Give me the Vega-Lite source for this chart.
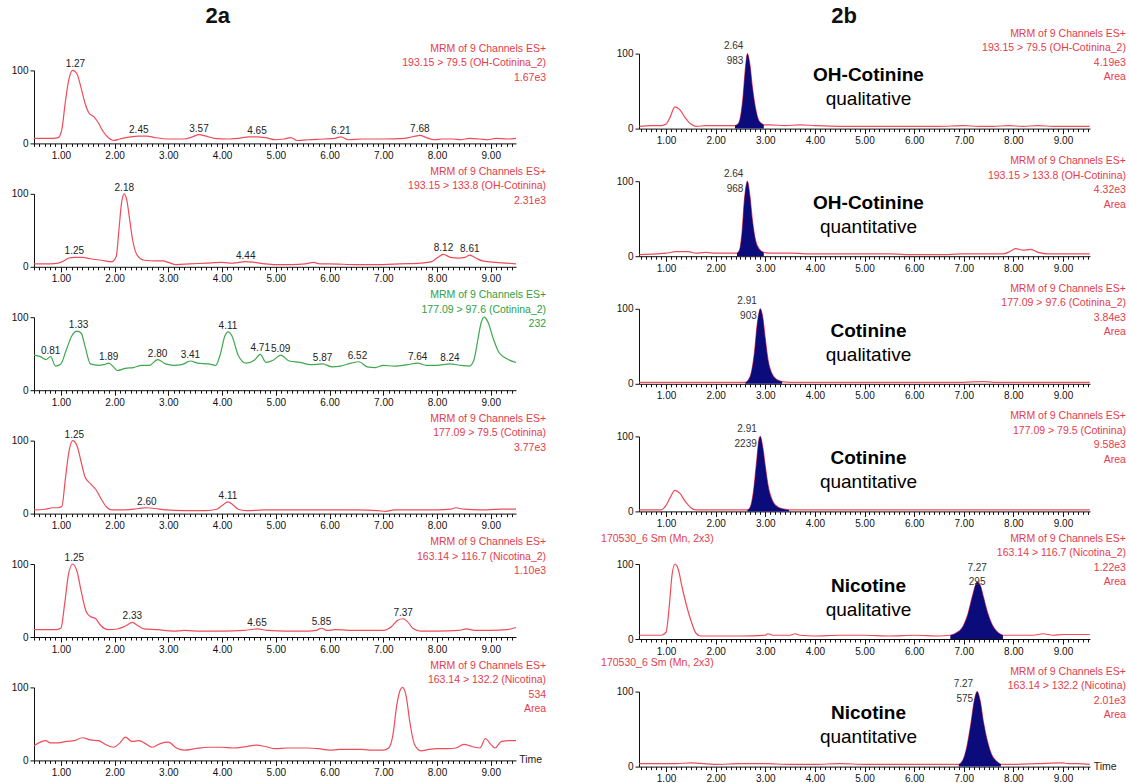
{
"$schema":"https://vega.github.io/schema/vega-lite/v6.json",
"background":"white",
"padding":{"left":11,"top":-6,"right":0,"bottom":0},
"config":{"view":{"stroke":null},"font":"Liberation Sans","axis":{"labelFont":"Liberation Sans","labelColor":"#111","domainColor":"#111","tickColor":"#111","grid":false,"labelFontSize":10},"text":{"font":"Liberation Sans"}},
"datasets":{
"curves":[
{"p":"a1","x":0.5,"y":7},{"p":"a1","x":0.7,"y":7},{"p":"a1","x":0.85,"y":7},{"p":"a1","x":0.95,"y":8},{"p":"a1","x":1.02,"y":20},{"p":"a1","x":1.08,"y":55},{"p":"a1","x":1.15,"y":88},{"p":"a1","x":1.22,"y":100},{"p":"a1","x":1.3,"y":95},{"p":"a1","x":1.38,"y":75},{"p":"a1","x":1.45,"y":55},{"p":"a1","x":1.52,"y":42},{"p":"a1","x":1.62,"y":36},{"p":"a1","x":1.7,"y":28},{"p":"a1","x":1.78,"y":17},{"p":"a1","x":1.88,"y":8},{"p":"a1","x":1.98,"y":4},{"p":"a1","x":2.1,"y":6},{"p":"a1","x":2.3,"y":9},{"p":"a1","x":2.45,"y":10},{"p":"a1","x":2.6,"y":10},{"p":"a1","x":2.75,"y":8},{"p":"a1","x":3.0,"y":6},{"p":"a1","x":3.3,"y":6},{"p":"a1","x":3.45,"y":9},{"p":"a1","x":3.57,"y":12},{"p":"a1","x":3.7,"y":10},{"p":"a1","x":3.85,"y":7},{"p":"a1","x":4.1,"y":6},{"p":"a1","x":4.3,"y":7},{"p":"a1","x":4.5,"y":9},{"p":"a1","x":4.65,"y":9},{"p":"a1","x":4.8,"y":8},{"p":"a1","x":5.0,"y":5},{"p":"a1","x":5.15,"y":6},{"p":"a1","x":5.28,"y":8},{"p":"a1","x":5.4,"y":4},{"p":"a1","x":5.6,"y":5},{"p":"a1","x":5.9,"y":6},{"p":"a1","x":6.1,"y":7},{"p":"a1","x":6.21,"y":9},{"p":"a1","x":6.35,"y":5},{"p":"a1","x":6.6,"y":6},{"p":"a1","x":7.0,"y":6},{"p":"a1","x":7.4,"y":7},{"p":"a1","x":7.6,"y":10},{"p":"a1","x":7.68,"y":11},{"p":"a1","x":7.8,"y":8},{"p":"a1","x":7.95,"y":5},{"p":"a1","x":8.1,"y":6},{"p":"a1","x":8.3,"y":6},{"p":"a1","x":8.45,"y":5},{"p":"a1","x":8.6,"y":7},{"p":"a1","x":8.8,"y":6},{"p":"a1","x":8.95,"y":5},{"p":"a1","x":9.1,"y":7},{"p":"a1","x":9.3,"y":6},{"p":"a1","x":9.47,"y":7},
{"p":"a2","x":0.5,"y":4},{"p":"a2","x":0.8,"y":4},{"p":"a2","x":0.95,"y":5},{"p":"a2","x":1.05,"y":8},{"p":"a2","x":1.15,"y":12},{"p":"a2","x":1.25,"y":13},{"p":"a2","x":1.4,"y":13},{"p":"a2","x":1.55,"y":11},{"p":"a2","x":1.75,"y":9},{"p":"a2","x":1.95,"y":7},{"p":"a2","x":2.03,"y":14},{"p":"a2","x":2.08,"y":50},{"p":"a2","x":2.13,"y":88},{"p":"a2","x":2.18,"y":100},{"p":"a2","x":2.23,"y":90},{"p":"a2","x":2.28,"y":65},{"p":"a2","x":2.34,"y":35},{"p":"a2","x":2.42,"y":16},{"p":"a2","x":2.55,"y":9},{"p":"a2","x":2.75,"y":8},{"p":"a2","x":2.9,"y":8},{"p":"a2","x":3.0,"y":6},{"p":"a2","x":3.15,"y":3},{"p":"a2","x":3.4,"y":4},{"p":"a2","x":3.7,"y":5},{"p":"a2","x":4.0,"y":6},{"p":"a2","x":4.2,"y":5},{"p":"a2","x":4.44,"y":7},{"p":"a2","x":4.6,"y":6},{"p":"a2","x":4.8,"y":4},{"p":"a2","x":5.0,"y":3},{"p":"a2","x":5.3,"y":3},{"p":"a2","x":5.55,"y":4},{"p":"a2","x":5.7,"y":6},{"p":"a2","x":5.82,"y":4},{"p":"a2","x":6.0,"y":4},{"p":"a2","x":6.5,"y":3},{"p":"a2","x":7.0,"y":3},{"p":"a2","x":7.3,"y":4},{"p":"a2","x":7.7,"y":5},{"p":"a2","x":7.9,"y":7},{"p":"a2","x":8.0,"y":12},{"p":"a2","x":8.12,"y":17},{"p":"a2","x":8.25,"y":13},{"p":"a2","x":8.4,"y":12},{"p":"a2","x":8.52,"y":13},{"p":"a2","x":8.61,"y":16},{"p":"a2","x":8.72,"y":12},{"p":"a2","x":8.85,"y":8},{"p":"a2","x":9.1,"y":6},{"p":"a2","x":9.3,"y":5},{"p":"a2","x":9.47,"y":4},
{"p":"a3","x":0.5,"y":48},{"p":"a3","x":0.62,"y":46},{"p":"a3","x":0.72,"y":42},{"p":"a3","x":0.81,"y":46},{"p":"a3","x":0.9,"y":33},{"p":"a3","x":1.0,"y":36},{"p":"a3","x":1.1,"y":55},{"p":"a3","x":1.2,"y":74},{"p":"a3","x":1.3,"y":81},{"p":"a3","x":1.38,"y":78},{"p":"a3","x":1.45,"y":60},{"p":"a3","x":1.55,"y":36},{"p":"a3","x":1.7,"y":34},{"p":"a3","x":1.8,"y":35},{"p":"a3","x":1.89,"y":37},{"p":"a3","x":1.98,"y":32},{"p":"a3","x":2.05,"y":27},{"p":"a3","x":2.2,"y":30},{"p":"a3","x":2.35,"y":31},{"p":"a3","x":2.5,"y":34},{"p":"a3","x":2.65,"y":34},{"p":"a3","x":2.8,"y":42},{"p":"a3","x":2.95,"y":36},{"p":"a3","x":3.1,"y":34},{"p":"a3","x":3.25,"y":35},{"p":"a3","x":3.41,"y":40},{"p":"a3","x":3.55,"y":37},{"p":"a3","x":3.75,"y":36},{"p":"a3","x":3.88,"y":34},{"p":"a3","x":3.97,"y":50},{"p":"a3","x":4.05,"y":74},{"p":"a3","x":4.11,"y":80},{"p":"a3","x":4.18,"y":75},{"p":"a3","x":4.3,"y":48},{"p":"a3","x":4.45,"y":37},{"p":"a3","x":4.6,"y":41},{"p":"a3","x":4.71,"y":49},{"p":"a3","x":4.82,"y":38},{"p":"a3","x":4.95,"y":41},{"p":"a3","x":5.09,"y":48},{"p":"a3","x":5.25,"y":40},{"p":"a3","x":5.45,"y":38},{"p":"a3","x":5.65,"y":35},{"p":"a3","x":5.87,"y":36},{"p":"a3","x":6.05,"y":32},{"p":"a3","x":6.2,"y":33},{"p":"a3","x":6.4,"y":37},{"p":"a3","x":6.55,"y":39},{"p":"a3","x":6.7,"y":32},{"p":"a3","x":6.85,"y":31},{"p":"a3","x":7.0,"y":34},{"p":"a3","x":7.2,"y":33},{"p":"a3","x":7.45,"y":35},{"p":"a3","x":7.64,"y":37},{"p":"a3","x":7.8,"y":34},{"p":"a3","x":8.0,"y":34},{"p":"a3","x":8.24,"y":36},{"p":"a3","x":8.45,"y":34},{"p":"a3","x":8.6,"y":33},{"p":"a3","x":8.68,"y":40},{"p":"a3","x":8.75,"y":65},{"p":"a3","x":8.82,"y":92},{"p":"a3","x":8.88,"y":100},{"p":"a3","x":8.95,"y":93},{"p":"a3","x":9.05,"y":70},{"p":"a3","x":9.15,"y":52},{"p":"a3","x":9.3,"y":43},{"p":"a3","x":9.47,"y":38},
{"p":"a4","x":0.5,"y":5},{"p":"a4","x":0.7,"y":6},{"p":"a4","x":0.85,"y":8},{"p":"a4","x":0.95,"y":8},{"p":"a4","x":1.02,"y":10},{"p":"a4","x":1.08,"y":45},{"p":"a4","x":1.15,"y":85},{"p":"a4","x":1.22,"y":100},{"p":"a4","x":1.3,"y":93},{"p":"a4","x":1.38,"y":70},{"p":"a4","x":1.45,"y":50},{"p":"a4","x":1.55,"y":41},{"p":"a4","x":1.65,"y":33},{"p":"a4","x":1.75,"y":20},{"p":"a4","x":1.85,"y":9},{"p":"a4","x":1.95,"y":5},{"p":"a4","x":2.2,"y":5},{"p":"a4","x":2.45,"y":7},{"p":"a4","x":2.6,"y":8},{"p":"a4","x":2.75,"y":7},{"p":"a4","x":2.95,"y":5},{"p":"a4","x":3.3,"y":4},{"p":"a4","x":3.7,"y":4},{"p":"a4","x":3.9,"y":6},{"p":"a4","x":4.0,"y":11},{"p":"a4","x":4.11,"y":16},{"p":"a4","x":4.2,"y":12},{"p":"a4","x":4.3,"y":6},{"p":"a4","x":4.45,"y":4},{"p":"a4","x":4.8,"y":5},{"p":"a4","x":5.2,"y":5},{"p":"a4","x":5.6,"y":5},{"p":"a4","x":6.0,"y":5},{"p":"a4","x":6.5,"y":5},{"p":"a4","x":6.9,"y":4},{"p":"a4","x":7.05,"y":3},{"p":"a4","x":7.2,"y":5},{"p":"a4","x":7.6,"y":5},{"p":"a4","x":8.0,"y":5},{"p":"a4","x":8.25,"y":6},{"p":"a4","x":8.35,"y":8},{"p":"a4","x":8.5,"y":6},{"p":"a4","x":8.8,"y":5},{"p":"a4","x":9.2,"y":6},{"p":"a4","x":9.47,"y":6},
{"p":"a5","x":0.5,"y":10},{"p":"a5","x":0.9,"y":10},{"p":"a5","x":1.0,"y":12},{"p":"a5","x":1.07,"y":45},{"p":"a5","x":1.14,"y":85},{"p":"a5","x":1.22,"y":100},{"p":"a5","x":1.3,"y":90},{"p":"a5","x":1.38,"y":62},{"p":"a5","x":1.47,"y":35},{"p":"a5","x":1.55,"y":28},{"p":"a5","x":1.65,"y":25},{"p":"a5","x":1.75,"y":15},{"p":"a5","x":1.88,"y":10},{"p":"a5","x":2.05,"y":11},{"p":"a5","x":2.2,"y":15},{"p":"a5","x":2.33,"y":20},{"p":"a5","x":2.42,"y":16},{"p":"a5","x":2.55,"y":11},{"p":"a5","x":2.8,"y":10},{"p":"a5","x":3.1,"y":8},{"p":"a5","x":3.3,"y":9},{"p":"a5","x":3.6,"y":8},{"p":"a5","x":4.0,"y":8},{"p":"a5","x":4.4,"y":9},{"p":"a5","x":4.65,"y":11},{"p":"a5","x":4.85,"y":9},{"p":"a5","x":5.2,"y":8},{"p":"a5","x":5.6,"y":8},{"p":"a5","x":5.75,"y":9},{"p":"a5","x":5.85,"y":12},{"p":"a5","x":5.95,"y":9},{"p":"a5","x":6.1,"y":10},{"p":"a5","x":6.5,"y":9},{"p":"a5","x":7.0,"y":9},{"p":"a5","x":7.15,"y":14},{"p":"a5","x":7.27,"y":23},{"p":"a5","x":7.37,"y":25},{"p":"a5","x":7.45,"y":21},{"p":"a5","x":7.55,"y":12},{"p":"a5","x":7.7,"y":8},{"p":"a5","x":8.0,"y":8},{"p":"a5","x":8.4,"y":9},{"p":"a5","x":8.55,"y":11},{"p":"a5","x":8.7,"y":9},{"p":"a5","x":9.0,"y":9},{"p":"a5","x":9.3,"y":10},{"p":"a5","x":9.47,"y":13},
{"p":"a6","x":0.5,"y":20},{"p":"a6","x":0.62,"y":25},{"p":"a6","x":0.72,"y":27},{"p":"a6","x":0.8,"y":24},{"p":"a6","x":0.95,"y":24},{"p":"a6","x":1.1,"y":26},{"p":"a6","x":1.25,"y":27},{"p":"a6","x":1.4,"y":31},{"p":"a6","x":1.55,"y":28},{"p":"a6","x":1.7,"y":27},{"p":"a6","x":1.85,"y":21},{"p":"a6","x":1.98,"y":18},{"p":"a6","x":2.1,"y":24},{"p":"a6","x":2.2,"y":32},{"p":"a6","x":2.32,"y":26},{"p":"a6","x":2.45,"y":27},{"p":"a6","x":2.55,"y":24},{"p":"a6","x":2.7,"y":18},{"p":"a6","x":2.85,"y":23},{"p":"a6","x":3.0,"y":25},{"p":"a6","x":3.15,"y":17},{"p":"a6","x":3.3,"y":14},{"p":"a6","x":3.5,"y":16},{"p":"a6","x":3.75,"y":18},{"p":"a6","x":4.0,"y":18},{"p":"a6","x":4.2,"y":17},{"p":"a6","x":4.45,"y":19},{"p":"a6","x":4.65,"y":21},{"p":"a6","x":4.8,"y":19},{"p":"a6","x":5.0,"y":16},{"p":"a6","x":5.2,"y":17},{"p":"a6","x":5.4,"y":17},{"p":"a6","x":5.6,"y":17},{"p":"a6","x":5.8,"y":16},{"p":"a6","x":6.0,"y":14},{"p":"a6","x":6.2,"y":15},{"p":"a6","x":6.4,"y":15},{"p":"a6","x":6.6,"y":15},{"p":"a6","x":6.8,"y":14},{"p":"a6","x":7.0,"y":14},{"p":"a6","x":7.1,"y":17},{"p":"a6","x":7.18,"y":35},{"p":"a6","x":7.25,"y":75},{"p":"a6","x":7.32,"y":97},{"p":"a6","x":7.36,"y":100},{"p":"a6","x":7.42,"y":90},{"p":"a6","x":7.5,"y":50},{"p":"a6","x":7.58,"y":22},{"p":"a6","x":7.7,"y":13},{"p":"a6","x":7.85,"y":15},{"p":"a6","x":8.0,"y":16},{"p":"a6","x":8.2,"y":16},{"p":"a6","x":8.35,"y":17},{"p":"a6","x":8.5,"y":22},{"p":"a6","x":8.65,"y":19},{"p":"a6","x":8.8,"y":17},{"p":"a6","x":8.9,"y":30},{"p":"a6","x":9.0,"y":22},{"p":"a6","x":9.08,"y":17},{"p":"a6","x":9.2,"y":26},{"p":"a6","x":9.35,"y":27},{"p":"a6","x":9.47,"y":27},
{"p":"b1","x":0.46,"y":3},{"p":"b1","x":0.7,"y":4},{"p":"b1","x":0.9,"y":4},{"p":"b1","x":1.0,"y":6},{"p":"b1","x":1.08,"y":15},{"p":"b1","x":1.18,"y":29},{"p":"b1","x":1.28,"y":25},{"p":"b1","x":1.38,"y":15},{"p":"b1","x":1.5,"y":6},{"p":"b1","x":1.6,"y":3},{"p":"b1","x":1.8,"y":4},{"p":"b1","x":2.1,"y":4},{"p":"b1","x":2.39,"y":4},{"p":"b1","x":2.45,"y":6},{"p":"b1","x":2.5,"y":15},{"p":"b1","x":2.55,"y":40},{"p":"b1","x":2.6,"y":80},{"p":"b1","x":2.64,"y":100},{"p":"b1","x":2.69,"y":85},{"p":"b1","x":2.74,"y":55},{"p":"b1","x":2.8,"y":28},{"p":"b1","x":2.86,"y":12},{"p":"b1","x":2.92,"y":7},{"p":"b1","x":2.97,"y":5},{"p":"b1","x":3.1,"y":5},{"p":"b1","x":3.4,"y":4},{"p":"b1","x":3.7,"y":5},{"p":"b1","x":4.0,"y":4},{"p":"b1","x":4.5,"y":3},{"p":"b1","x":5.0,"y":3},{"p":"b1","x":5.5,"y":3},{"p":"b1","x":6.0,"y":3},{"p":"b1","x":6.5,"y":3},{"p":"b1","x":7.0,"y":4},{"p":"b1","x":7.3,"y":3},{"p":"b1","x":7.6,"y":3},{"p":"b1","x":7.9,"y":4},{"p":"b1","x":8.2,"y":3},{"p":"b1","x":8.5,"y":4},{"p":"b1","x":8.8,"y":3},{"p":"b1","x":9.2,"y":3},{"p":"b1","x":9.54,"y":3},
{"p":"b2","x":0.46,"y":2},{"p":"b2","x":0.8,"y":3},{"p":"b2","x":1.0,"y":4},{"p":"b2","x":1.2,"y":6},{"p":"b2","x":1.45,"y":6},{"p":"b2","x":1.6,"y":4},{"p":"b2","x":1.8,"y":5},{"p":"b2","x":2.0,"y":4},{"p":"b2","x":2.2,"y":4},{"p":"b2","x":2.43,"y":4},{"p":"b2","x":2.48,"y":8},{"p":"b2","x":2.53,"y":30},{"p":"b2","x":2.58,"y":75},{"p":"b2","x":2.64,"y":100},{"p":"b2","x":2.69,"y":80},{"p":"b2","x":2.74,"y":48},{"p":"b2","x":2.8,"y":22},{"p":"b2","x":2.87,"y":10},{"p":"b2","x":2.97,"y":5},{"p":"b2","x":3.1,"y":4},{"p":"b2","x":3.5,"y":4},{"p":"b2","x":4.0,"y":3},{"p":"b2","x":4.5,"y":3},{"p":"b2","x":5.0,"y":3},{"p":"b2","x":5.5,"y":3},{"p":"b2","x":6.0,"y":2},{"p":"b2","x":6.5,"y":2},{"p":"b2","x":7.0,"y":3},{"p":"b2","x":7.5,"y":3},{"p":"b2","x":7.8,"y":3},{"p":"b2","x":7.95,"y":7},{"p":"b2","x":8.05,"y":10},{"p":"b2","x":8.2,"y":8},{"p":"b2","x":8.35,"y":9},{"p":"b2","x":8.5,"y":5},{"p":"b2","x":8.7,"y":3},{"p":"b2","x":9.0,"y":3},{"p":"b2","x":9.54,"y":3},
{"p":"b3","x":0.46,"y":2},{"p":"b3","x":1.0,"y":2},{"p":"b3","x":1.5,"y":2},{"p":"b3","x":2.0,"y":2},{"p":"b3","x":2.4,"y":2},{"p":"b3","x":2.6,"y":2},{"p":"b3","x":2.66,"y":5},{"p":"b3","x":2.72,"y":15},{"p":"b3","x":2.78,"y":40},{"p":"b3","x":2.84,"y":80},{"p":"b3","x":2.9,"y":100},{"p":"b3","x":2.95,"y":88},{"p":"b3","x":3.0,"y":60},{"p":"b3","x":3.06,"y":30},{"p":"b3","x":3.13,"y":14},{"p":"b3","x":3.22,"y":6},{"p":"b3","x":3.34,"y":3},{"p":"b3","x":3.5,"y":2},{"p":"b3","x":4.0,"y":2},{"p":"b3","x":5.0,"y":2},{"p":"b3","x":6.0,"y":2},{"p":"b3","x":7.0,"y":2},{"p":"b3","x":7.4,"y":3},{"p":"b3","x":7.6,"y":2},{"p":"b3","x":8.5,"y":2},{"p":"b3","x":9.54,"y":2},
{"p":"b4","x":0.46,"y":2},{"p":"b4","x":0.9,"y":2},{"p":"b4","x":1.0,"y":8},{"p":"b4","x":1.08,"y":18},{"p":"b4","x":1.18,"y":28},{"p":"b4","x":1.28,"y":24},{"p":"b4","x":1.38,"y":14},{"p":"b4","x":1.5,"y":5},{"p":"b4","x":1.6,"y":2},{"p":"b4","x":2.0,"y":2},{"p":"b4","x":2.64,"y":2},{"p":"b4","x":2.7,"y":6},{"p":"b4","x":2.76,"y":25},{"p":"b4","x":2.82,"y":62},{"p":"b4","x":2.88,"y":98},{"p":"b4","x":2.9,"y":100},{"p":"b4","x":2.95,"y":85},{"p":"b4","x":3.0,"y":60},{"p":"b4","x":3.06,"y":33},{"p":"b4","x":3.14,"y":15},{"p":"b4","x":3.25,"y":6},{"p":"b4","x":3.38,"y":3},{"p":"b4","x":3.48,"y":2},{"p":"b4","x":4.0,"y":2},{"p":"b4","x":5.0,"y":2},{"p":"b4","x":6.0,"y":2},{"p":"b4","x":7.0,"y":2},{"p":"b4","x":8.0,"y":2},{"p":"b4","x":9.54,"y":2},
{"p":"b5","x":0.46,"y":5},{"p":"b5","x":0.9,"y":5},{"p":"b5","x":1.0,"y":9},{"p":"b5","x":1.06,"y":40},{"p":"b5","x":1.12,"y":85},{"p":"b5","x":1.18,"y":100},{"p":"b5","x":1.25,"y":92},{"p":"b5","x":1.32,"y":70},{"p":"b5","x":1.4,"y":48},{"p":"b5","x":1.5,"y":25},{"p":"b5","x":1.6,"y":8},{"p":"b5","x":1.7,"y":4},{"p":"b5","x":2.0,"y":4},{"p":"b5","x":2.5,"y":4},{"p":"b5","x":3.0,"y":5},{"p":"b5","x":3.05,"y":7},{"p":"b5","x":3.15,"y":5},{"p":"b5","x":3.5,"y":5},{"p":"b5","x":3.6,"y":7},{"p":"b5","x":3.7,"y":5},{"p":"b5","x":4.0,"y":4},{"p":"b5","x":4.5,"y":5},{"p":"b5","x":5.0,"y":5},{"p":"b5","x":5.5,"y":4},{"p":"b5","x":6.0,"y":5},{"p":"b5","x":6.5,"y":4},{"p":"b5","x":6.73,"y":5},{"p":"b5","x":6.85,"y":8},{"p":"b5","x":6.98,"y":16},{"p":"b5","x":7.08,"y":32},{"p":"b5","x":7.18,"y":58},{"p":"b5","x":7.27,"y":76},{"p":"b5","x":7.33,"y":72},{"p":"b5","x":7.4,"y":55},{"p":"b5","x":7.48,"y":35},{"p":"b5","x":7.58,"y":18},{"p":"b5","x":7.7,"y":8},{"p":"b5","x":7.79,"y":5},{"p":"b5","x":8.0,"y":5},{"p":"b5","x":8.4,"y":5},{"p":"b5","x":8.6,"y":7},{"p":"b5","x":8.8,"y":5},{"p":"b5","x":9.0,"y":6},{"p":"b5","x":9.2,"y":6},{"p":"b5","x":9.54,"y":6},
{"p":"b6","x":0.46,"y":4},{"p":"b6","x":0.8,"y":4},{"p":"b6","x":1.2,"y":4},{"p":"b6","x":1.5,"y":5},{"p":"b6","x":2.0,"y":3},{"p":"b6","x":2.5,"y":4},{"p":"b6","x":3.0,"y":4},{"p":"b6","x":3.5,"y":3},{"p":"b6","x":4.0,"y":3},{"p":"b6","x":4.5,"y":4},{"p":"b6","x":5.0,"y":3},{"p":"b6","x":5.5,"y":3},{"p":"b6","x":6.0,"y":3},{"p":"b6","x":6.5,"y":3},{"p":"b6","x":6.9,"y":3},{"p":"b6","x":6.98,"y":8},{"p":"b6","x":7.06,"y":25},{"p":"b6","x":7.14,"y":55},{"p":"b6","x":7.22,"y":90},{"p":"b6","x":7.27,"y":100},{"p":"b6","x":7.33,"y":88},{"p":"b6","x":7.4,"y":58},{"p":"b6","x":7.48,"y":33},{"p":"b6","x":7.56,"y":16},{"p":"b6","x":7.66,"y":7},{"p":"b6","x":7.75,"y":3},{"p":"b6","x":8.0,"y":3},{"p":"b6","x":8.5,"y":4},{"p":"b6","x":9.0,"y":5},{"p":"b6","x":9.1,"y":4},{"p":"b6","x":9.3,"y":4},{"p":"b6","x":9.54,"y":3}
],
"labels":[
{"p":"a1","x":1.27,"y":100,"t":"1.27"},{"p":"a1","x":2.45,"y":10,"t":"2.45"},{"p":"a1","x":3.57,"y":12,"t":"3.57"},{"p":"a1","x":4.65,"y":9,"t":"4.65"},{"p":"a1","x":6.21,"y":9,"t":"6.21"},{"p":"a1","x":7.68,"y":11,"t":"7.68"},
{"p":"a2","x":1.25,"y":13,"t":"1.25"},{"p":"a2","x":2.18,"y":100,"t":"2.18"},{"p":"a2","x":4.44,"y":7,"t":"4.44"},{"p":"a2","x":8.12,"y":17,"t":"8.12"},{"p":"a2","x":8.61,"y":16,"t":"8.61"},
{"p":"a3","x":0.81,"y":46,"t":"0.81"},{"p":"a3","x":1.33,"y":81,"t":"1.33"},{"p":"a3","x":1.89,"y":37,"t":"1.89"},{"p":"a3","x":2.8,"y":42,"t":"2.80"},{"p":"a3","x":3.41,"y":40,"t":"3.41"},{"p":"a3","x":4.11,"y":80,"t":"4.11"},{"p":"a3","x":4.71,"y":49,"t":"4.71"},{"p":"a3","x":5.09,"y":48,"t":"5.09"},{"p":"a3","x":5.87,"y":36,"t":"5.87"},{"p":"a3","x":6.52,"y":39,"t":"6.52"},{"p":"a3","x":7.64,"y":37,"t":"7.64"},{"p":"a3","x":8.24,"y":36,"t":"8.24"},
{"p":"a4","x":1.25,"y":100,"t":"1.25"},{"p":"a4","x":2.6,"y":8,"t":"2.60"},{"p":"a4","x":4.11,"y":16,"t":"4.11"},
{"p":"a5","x":1.25,"y":100,"t":"1.25"},{"p":"a5","x":2.33,"y":20,"t":"2.33"},{"p":"a5","x":4.65,"y":11,"t":"4.65"},{"p":"a5","x":5.85,"y":12,"t":"5.85"},{"p":"a5","x":7.37,"y":25,"t":"7.37"},
{"p":"b1","x":2.64,"y":100,"t":"2.64\n983"},{"p":"b2","x":2.64,"y":100,"t":"2.64\n968"},{"p":"b3","x":2.91,"y":100,"t":"2.91\n903"},{"p":"b4","x":2.91,"y":100,"t":"2.91\n2239"},{"p":"b5","x":7.27,"y":76,"t":"7.27\n295"},{"p":"b6","x":7.27,"y":100,"t":"7.27\n575"}
],
"notes":[
{"p":"a1","t":"MRM of 9 Channels ES+\n193.15 > 79.5 (OH-Cotinina_2)\n1.67e3"},
{"p":"a2","t":"MRM of 9 Channels ES+\n193.15 > 133.8 (OH-Cotinina)\n2.31e3"},
{"p":"a3","t":"MRM of 9 Channels ES+\n177.09 > 97.6 (Cotinina_2)\n232"},
{"p":"a4","t":"MRM of 9 Channels ES+\n177.09 > 79.5 (Cotinina)\n3.77e3"},
{"p":"a5","t":"MRM of 9 Channels ES+\n163.14 > 116.7 (Nicotina_2)\n1.10e3"},
{"p":"a6","t":"MRM of 9 Channels ES+\n163.14 > 132.2 (Nicotina)\n534\nArea"},
{"p":"b1","t":"MRM of 9 Channels ES+\n193.15 > 79.5 (OH-Cotinina_2)\n4.19e3\nArea"},
{"p":"b2","t":"MRM of 9 Channels ES+\n193.15 > 133.8 (OH-Cotinina)\n4.32e3\nArea"},
{"p":"b3","t":"MRM of 9 Channels ES+\n177.09 > 97.6 (Cotinina_2)\n3.84e3\nArea"},
{"p":"b4","t":"MRM of 9 Channels ES+\n177.09 > 79.5 (Cotinina)\n9.58e3\nArea"},
{"p":"b5","t":"MRM of 9 Channels ES+\n163.14 > 116.7 (Nicotina_2)\n1.22e3\nArea"},
{"p":"b6","t":"MRM of 9 Channels ES+\n163.14 > 132.2 (Nicotina)\n2.01e3\nArea"}
],
"names":[{"p":"b1","n":"OH-Cotinine","q":"qualitative"},{"p":"b2","n":"OH-Cotinine","q":"quantitative"},{"p":"b3","n":"Cotinine","q":"qualitative"},{"p":"b4","n":"Cotinine","q":"quantitative"},{"p":"b5","n":"Nicotine","q":"qualitative","s":"170530_6 Sm (Mn, 2x3)"},{"p":"b6","n":"Nicotine","q":"quantitative","s":"170530_6 Sm (Mn, 2x3)"}]
},
"hconcat":[
{"spacing":50.4,"bounds":"flush","vconcat":[
  {"width":482,"height":19.5,"data":{"values":[{}]},"mark":{"type":"text"},"encoding":{"text":{"value":""}}},
  {"width":482,"height":73,
   "layer":[
    {"data":{"name":"curves"},"transform":[{"filter":"datum.p=='a1'"}],"mark":{"type":"line","color":"#EE4C5A","strokeWidth":1.2,"interpolate":"monotone"},
     "encoding":{"x":{"field":"x","type":"quantitative","scale":{"domain":[0.5,9.47],"nice":false,"zero":false},"axis":{"title":null,"tickCount":90,"labelExpr":"abs(datum.value-round(datum.value))<0.01 ? format(datum.value,'.2f') : ''","labelOverlap":false,"labelFlush":false,"tickSize":{"condition":{"test":"abs(datum.value-round(datum.value))<0.01","value":5},"value":3},"labelPadding":2}},"y":{"field":"y","type":"quantitative","scale":{"domain":[0,100],"nice":false,"zero":true},"axis":{"title":null,"values":[0,50,100],"labelExpr":"datum.value==50 ? '%' : datum.label","tickSize":4,"labelPadding":2}}}},
    {"data":{"name":"labels"},"transform":[{"filter":"datum.p=='a1'"}],"mark":{"type":"text","baseline":"bottom","dy":-1,"fontSize":10,"color":"#222"},"encoding":{"x":{"field":"x","type":"quantitative","scale":{"domain":[0.5,9.47],"nice":false,"zero":false}},"y":{"field":"y","type":"quantitative","scale":{"domain":[0,100],"nice":false,"zero":true}},"text":{"field":"t"}}},
    {"data":{"name":"notes"},"transform":[{"filter":"datum.p=='a1'"}],"mark":{"type":"text","align":"right","baseline":"middle","fontSize":10.5,"lineHeight":14.5,"lineBreak":"\n","color":"#E53B4B"},"encoding":{"x":{"datum":10.03,"type":"quantitative","scale":{"domain":[0.5,9.47],"nice":false,"zero":false}},"y":{"datum":130,"type":"quantitative","scale":{"domain":[0,100],"nice":false,"zero":true}},"text":{"field":"t"}}},
    {"data":{"values":[{"t":"2a"}]},"mark":{"type":"text","align":"center","baseline":"top","fontSize":22,"fontWeight":"bold","color":"#111"},"encoding":{"x":{"datum":3.92,"type":"quantitative","scale":{"domain":[0.5,9.47],"nice":false,"zero":false}},"y":{"datum":188.9,"type":"quantitative","scale":{"domain":[0,100],"nice":false,"zero":true}},"text":{"field":"t"}}}
   ]},
  {"width":482,"height":73,
   "layer":[
    {"data":{"name":"curves"},"transform":[{"filter":"datum.p=='a2'"}],"mark":{"type":"line","color":"#EE4C5A","strokeWidth":1.2,"interpolate":"monotone"},
     "encoding":{"x":{"field":"x","type":"quantitative","scale":{"domain":[0.5,9.47],"nice":false,"zero":false},"axis":{"title":null,"tickCount":90,"labelExpr":"abs(datum.value-round(datum.value))<0.01 ? format(datum.value,'.2f') : ''","labelOverlap":false,"labelFlush":false,"tickSize":{"condition":{"test":"abs(datum.value-round(datum.value))<0.01","value":5},"value":3},"labelPadding":2}},"y":{"field":"y","type":"quantitative","scale":{"domain":[0,100],"nice":false,"zero":true},"axis":{"title":null,"values":[0,50,100],"labelExpr":"datum.value==50 ? '%' : datum.label","tickSize":4,"labelPadding":2}}}},
    {"data":{"name":"labels"},"transform":[{"filter":"datum.p=='a2'"}],"mark":{"type":"text","baseline":"bottom","dy":-1,"fontSize":10,"color":"#222"},"encoding":{"x":{"field":"x","type":"quantitative","scale":{"domain":[0.5,9.47],"nice":false,"zero":false}},"y":{"field":"y","type":"quantitative","scale":{"domain":[0,100],"nice":false,"zero":true}},"text":{"field":"t"}}},
    {"data":{"name":"notes"},"transform":[{"filter":"datum.p=='a2'"}],"mark":{"type":"text","align":"right","baseline":"middle","fontSize":10.5,"lineHeight":14.5,"lineBreak":"\n","color":"#E53B4B"},"encoding":{"x":{"datum":10.03,"type":"quantitative","scale":{"domain":[0.5,9.47],"nice":false,"zero":false}},"y":{"datum":130,"type":"quantitative","scale":{"domain":[0,100],"nice":false,"zero":true}},"text":{"field":"t"}}}
   ]},
  {"width":482,"height":73,
   "layer":[
    {"data":{"name":"curves"},"transform":[{"filter":"datum.p=='a3'"}],"mark":{"type":"line","color":"#3DA84E","strokeWidth":1.2,"interpolate":"monotone"},
     "encoding":{"x":{"field":"x","type":"quantitative","scale":{"domain":[0.5,9.47],"nice":false,"zero":false},"axis":{"title":null,"tickCount":90,"labelExpr":"abs(datum.value-round(datum.value))<0.01 ? format(datum.value,'.2f') : ''","labelOverlap":false,"labelFlush":false,"tickSize":{"condition":{"test":"abs(datum.value-round(datum.value))<0.01","value":5},"value":3},"labelPadding":2}},"y":{"field":"y","type":"quantitative","scale":{"domain":[0,100],"nice":false,"zero":true},"axis":{"title":null,"values":[0,50,100],"labelExpr":"datum.value==50 ? '%' : datum.label","tickSize":4,"labelPadding":2}}}},
    {"data":{"name":"labels"},"transform":[{"filter":"datum.p=='a3'"}],"mark":{"type":"text","baseline":"bottom","dy":-1,"fontSize":10,"color":"#222"},"encoding":{"x":{"field":"x","type":"quantitative","scale":{"domain":[0.5,9.47],"nice":false,"zero":false}},"y":{"field":"y","type":"quantitative","scale":{"domain":[0,100],"nice":false,"zero":true}},"text":{"field":"t"}}},
    {"data":{"name":"notes"},"transform":[{"filter":"datum.p=='a3'"}],"mark":{"type":"text","align":"right","baseline":"middle","fontSize":10.5,"lineHeight":14.5,"lineBreak":"\n","color":"#2F9E44"},"encoding":{"x":{"datum":10.03,"type":"quantitative","scale":{"domain":[0.5,9.47],"nice":false,"zero":false}},"y":{"datum":130,"type":"quantitative","scale":{"domain":[0,100],"nice":false,"zero":true}},"text":{"field":"t"}}}
   ]},
  {"width":482,"height":73,
   "layer":[
    {"data":{"name":"curves"},"transform":[{"filter":"datum.p=='a4'"}],"mark":{"type":"line","color":"#EE4C5A","strokeWidth":1.2,"interpolate":"monotone"},
     "encoding":{"x":{"field":"x","type":"quantitative","scale":{"domain":[0.5,9.47],"nice":false,"zero":false},"axis":{"title":null,"tickCount":90,"labelExpr":"abs(datum.value-round(datum.value))<0.01 ? format(datum.value,'.2f') : ''","labelOverlap":false,"labelFlush":false,"tickSize":{"condition":{"test":"abs(datum.value-round(datum.value))<0.01","value":5},"value":3},"labelPadding":2}},"y":{"field":"y","type":"quantitative","scale":{"domain":[0,100],"nice":false,"zero":true},"axis":{"title":null,"values":[0,50,100],"labelExpr":"datum.value==50 ? '%' : datum.label","tickSize":4,"labelPadding":2}}}},
    {"data":{"name":"labels"},"transform":[{"filter":"datum.p=='a4'"}],"mark":{"type":"text","baseline":"bottom","dy":-1,"fontSize":10,"color":"#222"},"encoding":{"x":{"field":"x","type":"quantitative","scale":{"domain":[0.5,9.47],"nice":false,"zero":false}},"y":{"field":"y","type":"quantitative","scale":{"domain":[0,100],"nice":false,"zero":true}},"text":{"field":"t"}}},
    {"data":{"name":"notes"},"transform":[{"filter":"datum.p=='a4'"}],"mark":{"type":"text","align":"right","baseline":"middle","fontSize":10.5,"lineHeight":14.5,"lineBreak":"\n","color":"#E53B4B"},"encoding":{"x":{"datum":10.03,"type":"quantitative","scale":{"domain":[0.5,9.47],"nice":false,"zero":false}},"y":{"datum":130,"type":"quantitative","scale":{"domain":[0,100],"nice":false,"zero":true}},"text":{"field":"t"}}}
   ]},
  {"width":482,"height":73,
   "layer":[
    {"data":{"name":"curves"},"transform":[{"filter":"datum.p=='a5'"}],"mark":{"type":"line","color":"#EE4C5A","strokeWidth":1.2,"interpolate":"monotone"},
     "encoding":{"x":{"field":"x","type":"quantitative","scale":{"domain":[0.5,9.47],"nice":false,"zero":false},"axis":{"title":null,"tickCount":90,"labelExpr":"abs(datum.value-round(datum.value))<0.01 ? format(datum.value,'.2f') : ''","labelOverlap":false,"labelFlush":false,"tickSize":{"condition":{"test":"abs(datum.value-round(datum.value))<0.01","value":5},"value":3},"labelPadding":2}},"y":{"field":"y","type":"quantitative","scale":{"domain":[0,100],"nice":false,"zero":true},"axis":{"title":null,"values":[0,50,100],"labelExpr":"datum.value==50 ? '%' : datum.label","tickSize":4,"labelPadding":2}}}},
    {"data":{"name":"labels"},"transform":[{"filter":"datum.p=='a5'"}],"mark":{"type":"text","baseline":"bottom","dy":-1,"fontSize":10,"color":"#222"},"encoding":{"x":{"field":"x","type":"quantitative","scale":{"domain":[0.5,9.47],"nice":false,"zero":false}},"y":{"field":"y","type":"quantitative","scale":{"domain":[0,100],"nice":false,"zero":true}},"text":{"field":"t"}}},
    {"data":{"name":"notes"},"transform":[{"filter":"datum.p=='a5'"}],"mark":{"type":"text","align":"right","baseline":"middle","fontSize":10.5,"lineHeight":14.5,"lineBreak":"\n","color":"#E53B4B"},"encoding":{"x":{"datum":10.03,"type":"quantitative","scale":{"domain":[0.5,9.47],"nice":false,"zero":false}},"y":{"datum":130,"type":"quantitative","scale":{"domain":[0,100],"nice":false,"zero":true}},"text":{"field":"t"}}}
   ]},
  {"width":482,"height":73,
   "layer":[
    {"data":{"name":"curves"},"transform":[{"filter":"datum.p=='a6'"}],"mark":{"type":"line","color":"#EE4C5A","strokeWidth":1.2,"interpolate":"monotone"},
     "encoding":{"x":{"field":"x","type":"quantitative","scale":{"domain":[0.5,9.47],"nice":false,"zero":false},"axis":{"title":null,"tickCount":90,"labelExpr":"abs(datum.value-round(datum.value))<0.01 ? format(datum.value,'.2f') : ''","labelOverlap":false,"labelFlush":false,"tickSize":{"condition":{"test":"abs(datum.value-round(datum.value))<0.01","value":5},"value":3},"labelPadding":2}},"y":{"field":"y","type":"quantitative","scale":{"domain":[0,100],"nice":false,"zero":true},"axis":{"title":null,"values":[0,50,100],"labelExpr":"datum.value==50 ? '%' : datum.label","tickSize":4,"labelPadding":2}}}},
    {"data":{"name":"notes"},"transform":[{"filter":"datum.p=='a6'"}],"mark":{"type":"text","align":"right","baseline":"middle","fontSize":10.5,"lineHeight":14.5,"lineBreak":"\n","color":"#E53B4B"},"encoding":{"x":{"datum":10.03,"type":"quantitative","scale":{"domain":[0.5,9.47],"nice":false,"zero":false}},"y":{"datum":130,"type":"quantitative","scale":{"domain":[0,100],"nice":false,"zero":true}},"text":{"field":"t"}}},
    {"data":{"values":[{"t":"Time"}]},"mark":{"type":"text","align":"left","baseline":"middle","fontSize":10.5,"color":"#222"},"encoding":{"x":{"datum":9.53,"type":"quantitative","scale":{"domain":[0.5,9.47],"nice":false,"zero":false}},"y":{"datum":0,"type":"quantitative","scale":{"domain":[0,100],"nice":false,"zero":true}},"text":{"field":"t"}}}
   ]}
]},
{"spacing":52.6,"bounds":"flush","vconcat":[
  {"width":451,"height":0.5,"data":{"values":[{}]},"mark":{"type":"text"},"encoding":{"text":{"value":""}}},
  {"width":451,"height":75,
   "layer":[
    {"data":{"name":"curves"},"transform":[{"filter":"datum.p=='b1'"}],"mark":{"type":"line","color":"#EE4C5A","strokeWidth":1.2,"interpolate":"monotone"},
     "encoding":{"x":{"field":"x","type":"quantitative","scale":{"domain":[0.455,9.545],"nice":false,"zero":false},"axis":{"title":null,"tickCount":91,"labelExpr":"abs(datum.value-round(datum.value))<0.01 ? format(datum.value,'.2f') : ''","labelOverlap":false,"labelFlush":false,"tickSize":{"condition":{"test":"abs(datum.value-round(datum.value))<0.01","value":5},"value":3},"labelPadding":2}},"y":{"field":"y","type":"quantitative","scale":{"domain":[0,100],"nice":false,"zero":true},"axis":{"title":null,"values":[0,50,100],"labelExpr":"datum.value==50 ? '%' : datum.label","tickSize":4,"labelPadding":2}}}},
    {"data":{"name":"curves"},"transform":[{"filter":"datum.p=='b1' && datum.x>=2.39 && datum.x<=2.97"}],"mark":{"type":"area","color":"#0B0B7C","interpolate":"monotone"},"encoding":{"x":{"field":"x","type":"quantitative","scale":{"domain":[0.455,9.545],"nice":false,"zero":false}},"y":{"field":"y","type":"quantitative","scale":{"domain":[0,100],"nice":false,"zero":true}}}},
    {"data":{"name":"labels"},"transform":[{"filter":"datum.p=='b1'"}],"mark":{"type":"text","align":"right","baseline":"middle","dx":-4,"dy":-7.5,"fontSize":10,"lineHeight":15,"lineBreak":"\n","color":"#333"},"encoding":{"x":{"field":"x","type":"quantitative","scale":{"domain":[0.455,9.545],"nice":false,"zero":false}},"y":{"field":"y","type":"quantitative","scale":{"domain":[0,100],"nice":false,"zero":true}},"text":{"field":"t"}}},
    {"data":{"name":"names"},"transform":[{"filter":"datum.p=='b1'"}],"mark":{"type":"text","fontSize":19,"fontWeight":"bold","color":"#000"},"encoding":{"x":{"datum":5.08,"type":"quantitative","scale":{"domain":[0.455,9.545],"nice":false,"zero":false}},"y":{"datum":71,"type":"quantitative","scale":{"domain":[0,100],"nice":false,"zero":true}},"text":{"field":"n"}}},
    {"data":{"name":"names"},"transform":[{"filter":"datum.p=='b1'"}],"mark":{"type":"text","fontSize":19,"color":"#000"},"encoding":{"x":{"datum":5.08,"type":"quantitative","scale":{"domain":[0.455,9.545],"nice":false,"zero":false}},"y":{"datum":39,"type":"quantitative","scale":{"domain":[0,100],"nice":false,"zero":true}},"text":{"field":"q"}}},
    {"data":{"name":"notes"},"transform":[{"filter":"datum.p=='b1'"}],"mark":{"type":"text","align":"right","baseline":"middle","fontSize":10.5,"lineHeight":14.5,"lineBreak":"\n","color":"#E53B4B"},"encoding":{"x":{"datum":10.27,"type":"quantitative","scale":{"domain":[0.455,9.545],"nice":false,"zero":false}},"y":{"datum":126.7,"type":"quantitative","scale":{"domain":[0,100],"nice":false,"zero":true}},"text":{"field":"t"}}},
    {"data":{"values":[{"t":"2b"}]},"mark":{"type":"text","align":"center","baseline":"top","fontSize":22,"fontWeight":"bold","color":"#111"},"encoding":{"x":{"datum":4.59,"type":"quantitative","scale":{"domain":[0.455,9.545],"nice":false,"zero":false}},"y":{"datum":164.1,"type":"quantitative","scale":{"domain":[0,100],"nice":false,"zero":true}},"text":{"field":"t"}}}
   ]},
  {"width":451,"height":75,
   "layer":[
    {"data":{"name":"curves"},"transform":[{"filter":"datum.p=='b2'"}],"mark":{"type":"line","color":"#EE4C5A","strokeWidth":1.2,"interpolate":"monotone"},
     "encoding":{"x":{"field":"x","type":"quantitative","scale":{"domain":[0.455,9.545],"nice":false,"zero":false},"axis":{"title":null,"tickCount":91,"labelExpr":"abs(datum.value-round(datum.value))<0.01 ? format(datum.value,'.2f') : ''","labelOverlap":false,"labelFlush":false,"tickSize":{"condition":{"test":"abs(datum.value-round(datum.value))<0.01","value":5},"value":3},"labelPadding":2}},"y":{"field":"y","type":"quantitative","scale":{"domain":[0,100],"nice":false,"zero":true},"axis":{"title":null,"values":[0,50,100],"labelExpr":"datum.value==50 ? '%' : datum.label","tickSize":4,"labelPadding":2}}}},
    {"data":{"name":"curves"},"transform":[{"filter":"datum.p=='b2' && datum.x>=2.43 && datum.x<=2.97"}],"mark":{"type":"area","color":"#0B0B7C","interpolate":"monotone"},"encoding":{"x":{"field":"x","type":"quantitative","scale":{"domain":[0.455,9.545],"nice":false,"zero":false}},"y":{"field":"y","type":"quantitative","scale":{"domain":[0,100],"nice":false,"zero":true}}}},
    {"data":{"name":"labels"},"transform":[{"filter":"datum.p=='b2'"}],"mark":{"type":"text","align":"right","baseline":"middle","dx":-4,"dy":-7.5,"fontSize":10,"lineHeight":15,"lineBreak":"\n","color":"#333"},"encoding":{"x":{"field":"x","type":"quantitative","scale":{"domain":[0.455,9.545],"nice":false,"zero":false}},"y":{"field":"y","type":"quantitative","scale":{"domain":[0,100],"nice":false,"zero":true}},"text":{"field":"t"}}},
    {"data":{"name":"names"},"transform":[{"filter":"datum.p=='b2'"}],"mark":{"type":"text","fontSize":19,"fontWeight":"bold","color":"#000"},"encoding":{"x":{"datum":5.08,"type":"quantitative","scale":{"domain":[0.455,9.545],"nice":false,"zero":false}},"y":{"datum":71,"type":"quantitative","scale":{"domain":[0,100],"nice":false,"zero":true}},"text":{"field":"n"}}},
    {"data":{"name":"names"},"transform":[{"filter":"datum.p=='b2'"}],"mark":{"type":"text","fontSize":19,"color":"#000"},"encoding":{"x":{"datum":5.08,"type":"quantitative","scale":{"domain":[0.455,9.545],"nice":false,"zero":false}},"y":{"datum":39,"type":"quantitative","scale":{"domain":[0,100],"nice":false,"zero":true}},"text":{"field":"q"}}},
    {"data":{"name":"notes"},"transform":[{"filter":"datum.p=='b2'"}],"mark":{"type":"text","align":"right","baseline":"middle","fontSize":10.5,"lineHeight":14.5,"lineBreak":"\n","color":"#E53B4B"},"encoding":{"x":{"datum":10.27,"type":"quantitative","scale":{"domain":[0.455,9.545],"nice":false,"zero":false}},"y":{"datum":126.7,"type":"quantitative","scale":{"domain":[0,100],"nice":false,"zero":true}},"text":{"field":"t"}}}
   ]},
  {"width":451,"height":75,
   "layer":[
    {"data":{"name":"curves"},"transform":[{"filter":"datum.p=='b3'"}],"mark":{"type":"line","color":"#EE4C5A","strokeWidth":1.2,"interpolate":"monotone"},
     "encoding":{"x":{"field":"x","type":"quantitative","scale":{"domain":[0.455,9.545],"nice":false,"zero":false},"axis":{"title":null,"tickCount":91,"labelExpr":"abs(datum.value-round(datum.value))<0.01 ? format(datum.value,'.2f') : ''","labelOverlap":false,"labelFlush":false,"tickSize":{"condition":{"test":"abs(datum.value-round(datum.value))<0.01","value":5},"value":3},"labelPadding":2}},"y":{"field":"y","type":"quantitative","scale":{"domain":[0,100],"nice":false,"zero":true},"axis":{"title":null,"values":[0,50,100],"labelExpr":"datum.value==50 ? '%' : datum.label","tickSize":4,"labelPadding":2}}}},
    {"data":{"name":"curves"},"transform":[{"filter":"datum.p=='b3' && datum.x>=2.6 && datum.x<=3.34"}],"mark":{"type":"area","color":"#0B0B7C","interpolate":"monotone"},"encoding":{"x":{"field":"x","type":"quantitative","scale":{"domain":[0.455,9.545],"nice":false,"zero":false}},"y":{"field":"y","type":"quantitative","scale":{"domain":[0,100],"nice":false,"zero":true}}}},
    {"data":{"name":"labels"},"transform":[{"filter":"datum.p=='b3'"}],"mark":{"type":"text","align":"right","baseline":"middle","dx":-4,"dy":-7.5,"fontSize":10,"lineHeight":15,"lineBreak":"\n","color":"#333"},"encoding":{"x":{"field":"x","type":"quantitative","scale":{"domain":[0.455,9.545],"nice":false,"zero":false}},"y":{"field":"y","type":"quantitative","scale":{"domain":[0,100],"nice":false,"zero":true}},"text":{"field":"t"}}},
    {"data":{"name":"names"},"transform":[{"filter":"datum.p=='b3'"}],"mark":{"type":"text","fontSize":19,"fontWeight":"bold","color":"#000"},"encoding":{"x":{"datum":5.08,"type":"quantitative","scale":{"domain":[0.455,9.545],"nice":false,"zero":false}},"y":{"datum":71,"type":"quantitative","scale":{"domain":[0,100],"nice":false,"zero":true}},"text":{"field":"n"}}},
    {"data":{"name":"names"},"transform":[{"filter":"datum.p=='b3'"}],"mark":{"type":"text","fontSize":19,"color":"#000"},"encoding":{"x":{"datum":5.08,"type":"quantitative","scale":{"domain":[0.455,9.545],"nice":false,"zero":false}},"y":{"datum":39,"type":"quantitative","scale":{"domain":[0,100],"nice":false,"zero":true}},"text":{"field":"q"}}},
    {"data":{"name":"notes"},"transform":[{"filter":"datum.p=='b3'"}],"mark":{"type":"text","align":"right","baseline":"middle","fontSize":10.5,"lineHeight":14.5,"lineBreak":"\n","color":"#E53B4B"},"encoding":{"x":{"datum":10.27,"type":"quantitative","scale":{"domain":[0.455,9.545],"nice":false,"zero":false}},"y":{"datum":126.7,"type":"quantitative","scale":{"domain":[0,100],"nice":false,"zero":true}},"text":{"field":"t"}}}
   ]},
  {"width":451,"height":75,
   "layer":[
    {"data":{"name":"curves"},"transform":[{"filter":"datum.p=='b4'"}],"mark":{"type":"line","color":"#EE4C5A","strokeWidth":1.2,"interpolate":"monotone"},
     "encoding":{"x":{"field":"x","type":"quantitative","scale":{"domain":[0.455,9.545],"nice":false,"zero":false},"axis":{"title":null,"tickCount":91,"labelExpr":"abs(datum.value-round(datum.value))<0.01 ? format(datum.value,'.2f') : ''","labelOverlap":false,"labelFlush":false,"tickSize":{"condition":{"test":"abs(datum.value-round(datum.value))<0.01","value":5},"value":3},"labelPadding":2}},"y":{"field":"y","type":"quantitative","scale":{"domain":[0,100],"nice":false,"zero":true},"axis":{"title":null,"values":[0,50,100],"labelExpr":"datum.value==50 ? '%' : datum.label","tickSize":4,"labelPadding":2}}}},
    {"data":{"name":"curves"},"transform":[{"filter":"datum.p=='b4' && datum.x>=2.64 && datum.x<=3.48"}],"mark":{"type":"area","color":"#0B0B7C","interpolate":"monotone"},"encoding":{"x":{"field":"x","type":"quantitative","scale":{"domain":[0.455,9.545],"nice":false,"zero":false}},"y":{"field":"y","type":"quantitative","scale":{"domain":[0,100],"nice":false,"zero":true}}}},
    {"data":{"name":"labels"},"transform":[{"filter":"datum.p=='b4'"}],"mark":{"type":"text","align":"right","baseline":"middle","dx":-4,"dy":-7.5,"fontSize":10,"lineHeight":15,"lineBreak":"\n","color":"#333"},"encoding":{"x":{"field":"x","type":"quantitative","scale":{"domain":[0.455,9.545],"nice":false,"zero":false}},"y":{"field":"y","type":"quantitative","scale":{"domain":[0,100],"nice":false,"zero":true}},"text":{"field":"t"}}},
    {"data":{"name":"names"},"transform":[{"filter":"datum.p=='b4'"}],"mark":{"type":"text","fontSize":19,"fontWeight":"bold","color":"#000"},"encoding":{"x":{"datum":5.08,"type":"quantitative","scale":{"domain":[0.455,9.545],"nice":false,"zero":false}},"y":{"datum":71,"type":"quantitative","scale":{"domain":[0,100],"nice":false,"zero":true}},"text":{"field":"n"}}},
    {"data":{"name":"names"},"transform":[{"filter":"datum.p=='b4'"}],"mark":{"type":"text","fontSize":19,"color":"#000"},"encoding":{"x":{"datum":5.08,"type":"quantitative","scale":{"domain":[0.455,9.545],"nice":false,"zero":false}},"y":{"datum":39,"type":"quantitative","scale":{"domain":[0,100],"nice":false,"zero":true}},"text":{"field":"q"}}},
    {"data":{"name":"notes"},"transform":[{"filter":"datum.p=='b4'"}],"mark":{"type":"text","align":"right","baseline":"middle","fontSize":10.5,"lineHeight":14.5,"lineBreak":"\n","color":"#E53B4B"},"encoding":{"x":{"datum":10.27,"type":"quantitative","scale":{"domain":[0.455,9.545],"nice":false,"zero":false}},"y":{"datum":126.7,"type":"quantitative","scale":{"domain":[0,100],"nice":false,"zero":true}},"text":{"field":"t"}}}
   ]},
  {"width":451,"height":75,
   "layer":[
    {"data":{"name":"curves"},"transform":[{"filter":"datum.p=='b5'"}],"mark":{"type":"line","color":"#EE4C5A","strokeWidth":1.2,"interpolate":"monotone"},
     "encoding":{"x":{"field":"x","type":"quantitative","scale":{"domain":[0.455,9.545],"nice":false,"zero":false},"axis":{"title":null,"tickCount":91,"labelExpr":"abs(datum.value-round(datum.value))<0.01 ? format(datum.value,'.2f') : ''","labelOverlap":false,"labelFlush":false,"tickSize":{"condition":{"test":"abs(datum.value-round(datum.value))<0.01","value":5},"value":3},"labelPadding":2}},"y":{"field":"y","type":"quantitative","scale":{"domain":[0,100],"nice":false,"zero":true},"axis":{"title":null,"values":[0,50,100],"labelExpr":"datum.value==50 ? '%' : datum.label","tickSize":4,"labelPadding":2}}}},
    {"data":{"name":"curves"},"transform":[{"filter":"datum.p=='b5' && datum.x>=6.73 && datum.x<=7.79"}],"mark":{"type":"area","color":"#0B0B7C","interpolate":"monotone"},"encoding":{"x":{"field":"x","type":"quantitative","scale":{"domain":[0.455,9.545],"nice":false,"zero":false}},"y":{"field":"y","type":"quantitative","scale":{"domain":[0,100],"nice":false,"zero":true}}}},
    {"data":{"name":"labels"},"transform":[{"filter":"datum.p=='b5'"}],"mark":{"type":"text","align":"center","baseline":"middle","dy":-14,"fontSize":10,"lineHeight":14,"lineBreak":"\n","color":"#333"},"encoding":{"x":{"field":"x","type":"quantitative","scale":{"domain":[0.455,9.545],"nice":false,"zero":false}},"y":{"field":"y","type":"quantitative","scale":{"domain":[0,100],"nice":false,"zero":true}},"text":{"field":"t"}}},
    {"data":{"name":"names"},"transform":[{"filter":"datum.p=='b5'"}],"mark":{"type":"text","fontSize":19,"fontWeight":"bold","color":"#000"},"encoding":{"x":{"datum":5.08,"type":"quantitative","scale":{"domain":[0.455,9.545],"nice":false,"zero":false}},"y":{"datum":71,"type":"quantitative","scale":{"domain":[0,100],"nice":false,"zero":true}},"text":{"field":"n"}}},
    {"data":{"name":"names"},"transform":[{"filter":"datum.p=='b5'"}],"mark":{"type":"text","fontSize":19,"color":"#000"},"encoding":{"x":{"datum":5.08,"type":"quantitative","scale":{"domain":[0.455,9.545],"nice":false,"zero":false}},"y":{"datum":39,"type":"quantitative","scale":{"domain":[0,100],"nice":false,"zero":true}},"text":{"field":"q"}}},
    {"data":{"name":"notes"},"transform":[{"filter":"datum.p=='b5'"}],"mark":{"type":"text","align":"right","baseline":"middle","fontSize":10.5,"lineHeight":14.5,"lineBreak":"\n","color":"#E53B4B"},"encoding":{"x":{"datum":10.27,"type":"quantitative","scale":{"domain":[0.455,9.545],"nice":false,"zero":false}},"y":{"datum":134,"type":"quantitative","scale":{"domain":[0,100],"nice":false,"zero":true}},"text":{"field":"t"}}},
    {"data":{"name":"names"},"transform":[{"filter":"datum.p=='b5'"}],"mark":{"type":"text","align":"left","baseline":"middle","fontSize":10.5,"color":"#E53B4B"},"encoding":{"x":{"datum":-0.31,"type":"quantitative","scale":{"domain":[0.455,9.545],"nice":false,"zero":false}},"y":{"datum":134,"type":"quantitative","scale":{"domain":[0,100],"nice":false,"zero":true}},"text":{"field":"s"}}}
   ]},
  {"width":451,"height":75,
   "layer":[
    {"data":{"name":"curves"},"transform":[{"filter":"datum.p=='b6'"}],"mark":{"type":"line","color":"#EE4C5A","strokeWidth":1.2,"interpolate":"monotone"},
     "encoding":{"x":{"field":"x","type":"quantitative","scale":{"domain":[0.455,9.545],"nice":false,"zero":false},"axis":{"title":null,"tickCount":91,"labelExpr":"abs(datum.value-round(datum.value))<0.01 ? format(datum.value,'.2f') : ''","labelOverlap":false,"labelFlush":false,"tickSize":{"condition":{"test":"abs(datum.value-round(datum.value))<0.01","value":5},"value":3},"labelPadding":2}},"y":{"field":"y","type":"quantitative","scale":{"domain":[0,100],"nice":false,"zero":true},"axis":{"title":null,"values":[0,50,100],"labelExpr":"datum.value==50 ? '%' : datum.label","tickSize":4,"labelPadding":2}}}},
    {"data":{"name":"curves"},"transform":[{"filter":"datum.p=='b6' && datum.x>=6.9 && datum.x<=7.75"}],"mark":{"type":"area","color":"#0B0B7C","interpolate":"monotone"},"encoding":{"x":{"field":"x","type":"quantitative","scale":{"domain":[0.455,9.545],"nice":false,"zero":false}},"y":{"field":"y","type":"quantitative","scale":{"domain":[0,100],"nice":false,"zero":true}}}},
    {"data":{"name":"labels"},"transform":[{"filter":"datum.p=='b6'"}],"mark":{"type":"text","align":"right","baseline":"middle","dx":-4,"dy":-7.5,"fontSize":10,"lineHeight":15,"lineBreak":"\n","color":"#333"},"encoding":{"x":{"field":"x","type":"quantitative","scale":{"domain":[0.455,9.545],"nice":false,"zero":false}},"y":{"field":"y","type":"quantitative","scale":{"domain":[0,100],"nice":false,"zero":true}},"text":{"field":"t"}}},
    {"data":{"name":"names"},"transform":[{"filter":"datum.p=='b6'"}],"mark":{"type":"text","fontSize":19,"fontWeight":"bold","color":"#000"},"encoding":{"x":{"datum":5.08,"type":"quantitative","scale":{"domain":[0.455,9.545],"nice":false,"zero":false}},"y":{"datum":71,"type":"quantitative","scale":{"domain":[0,100],"nice":false,"zero":true}},"text":{"field":"n"}}},
    {"data":{"name":"names"},"transform":[{"filter":"datum.p=='b6'"}],"mark":{"type":"text","fontSize":19,"color":"#000"},"encoding":{"x":{"datum":5.08,"type":"quantitative","scale":{"domain":[0.455,9.545],"nice":false,"zero":false}},"y":{"datum":39,"type":"quantitative","scale":{"domain":[0,100],"nice":false,"zero":true}},"text":{"field":"q"}}},
    {"data":{"name":"notes"},"transform":[{"filter":"datum.p=='b6'"}],"mark":{"type":"text","align":"right","baseline":"middle","fontSize":10.5,"lineHeight":14.5,"lineBreak":"\n","color":"#E53B4B"},"encoding":{"x":{"datum":10.27,"type":"quantitative","scale":{"domain":[0.455,9.545],"nice":false,"zero":false}},"y":{"datum":126.7,"type":"quantitative","scale":{"domain":[0,100],"nice":false,"zero":true}},"text":{"field":"t"}}},
    {"data":{"name":"names"},"transform":[{"filter":"datum.p=='b6'"}],"mark":{"type":"text","align":"left","baseline":"middle","fontSize":10.5,"color":"#E53B4B"},"encoding":{"x":{"datum":-0.31,"type":"quantitative","scale":{"domain":[0.455,9.545],"nice":false,"zero":false}},"y":{"datum":138,"type":"quantitative","scale":{"domain":[0,100],"nice":false,"zero":true}},"text":{"field":"s"}}},
    {"data":{"values":[{"t":"Time"}]},"mark":{"type":"text","align":"left","baseline":"middle","fontSize":10.5,"color":"#222"},"encoding":{"x":{"datum":9.62,"type":"quantitative","scale":{"domain":[0.455,9.545],"nice":false,"zero":false}},"y":{"datum":0,"type":"quantitative","scale":{"domain":[0,100],"nice":false,"zero":true}},"text":{"field":"t"}}}
   ]}
]}
],
"spacing":54
}
